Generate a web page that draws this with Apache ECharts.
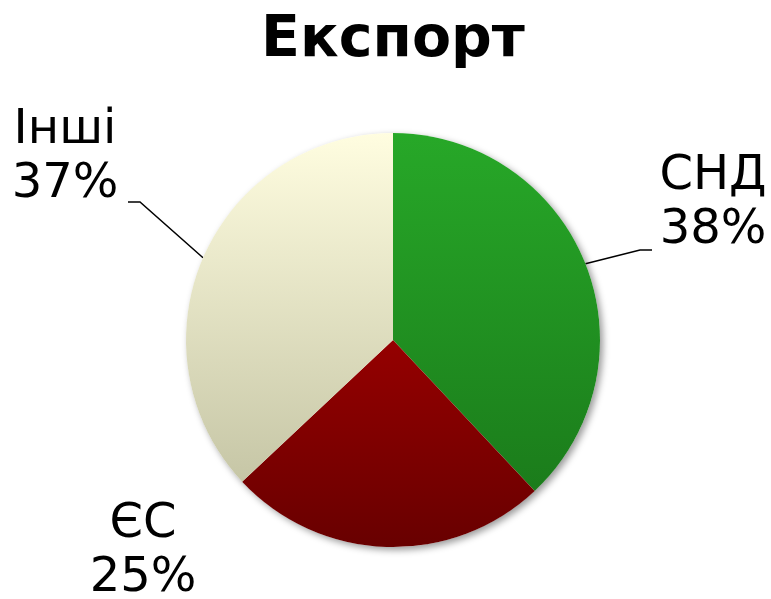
<!DOCTYPE html>
<html>
<head>
<meta charset="utf-8">
<script src="https://cdn.jsdelivr.net/npm/echarts@6/dist/echarts.min.js"></script>
<style>
  html, body { margin: 0; padding: 0; background: #fff; }
  #chart { width: 771px; height: 599px; }
</style>
</head>
<body>
<div id="chart"></div>
<script>
const title = 'Експорт';
const categories = ['СНД', 'ЄС', 'Інші'];
const values = [38, 25, 37];

// gradient stops per slice (top, bottom)
const colors = [
  ['#27a828', '#1b7c1b'],
  ['#950000', '#680000'],
  ['#fffde0', '#c6c6a6']
];

// label anchor (centre of the text block) and line elbow, relative to pie centre
const labelPos = [
  { x: 320, y: -136, elbow: [247, -90], line: true },
  { x: -250, y: 212, elbow: null, line: false },
  { x: -328, y: -182, elbow: [-253, -138], line: true }
];

const chart = echarts.init(document.getElementById('chart'));
const cx = 393, cy = 340, r = 207;

chart.setOption({
  animation: false,
  title: {
    text: title,
    left: cx - 5,
    textAlign: 'center',
    top: 8,
    textStyle: { fontFamily: 'DejaVu Sans', fontWeight: 'bold', fontSize: 57, color: '#000' }
  },
  series: [{
    // shadow disc under the pie
    type: 'pie',
    silent: true,
    center: [cx, cy],
    radius: r,
    z: 1,
    label: { show: false },
    labelLine: { show: false },
    data: [{ value: 1, name: '' }],
    itemStyle: {
      color: '#fff',
      shadowBlur: 7,
      shadowOffsetX: 3,
      shadowOffsetY: 3,
      shadowColor: 'rgba(0,0,0,0.4)'
    }
  }, {
    type: 'pie',
    center: [cx, cy],
    radius: r,
    z: 2,
    startAngle: 90,
    clockwise: true,
    data: categories.map((name, i) => ({
      name,
      value: values[i],
      labelLine: { show: labelPos[i].line },
      itemStyle: {
        color: new echarts.graphic.LinearGradient(0, 0, 0, 1, [
          { offset: 0, color: colors[i][0] },
          { offset: 1, color: colors[i][1] }
        ])
      }
    })),
    label: {
      show: true,
      position: 'outside',
      formatter: '{b}\n{d}%',
      fontFamily: 'DejaVu Sans',
      fontSize: 48,
      lineHeight: 54,
      color: '#000',
      align: 'center'
    },
    labelLine: {
      show: true,
      lineStyle: { color: '#000', width: 1.5 }
    },
    labelLayout: function (params) {
      const p = labelPos[params.dataIndex];
      const res = {
        x: cx + p.x,
        y: cy + p.y,
        align: 'center',
        verticalAlign: 'middle'
      };
      if (p.line && params.labelLinePoints) {
        const start = params.labelLinePoints[0];
        const elbow = [cx + p.elbow[0], cy + p.elbow[1]];
        const end = [elbow[0] + (p.x > 0 ? 12 : -12), elbow[1]];
        res.labelLinePoints = [start, elbow, end];
      }
      return res;
    }
  }]
});
</script>
</body>
</html>
